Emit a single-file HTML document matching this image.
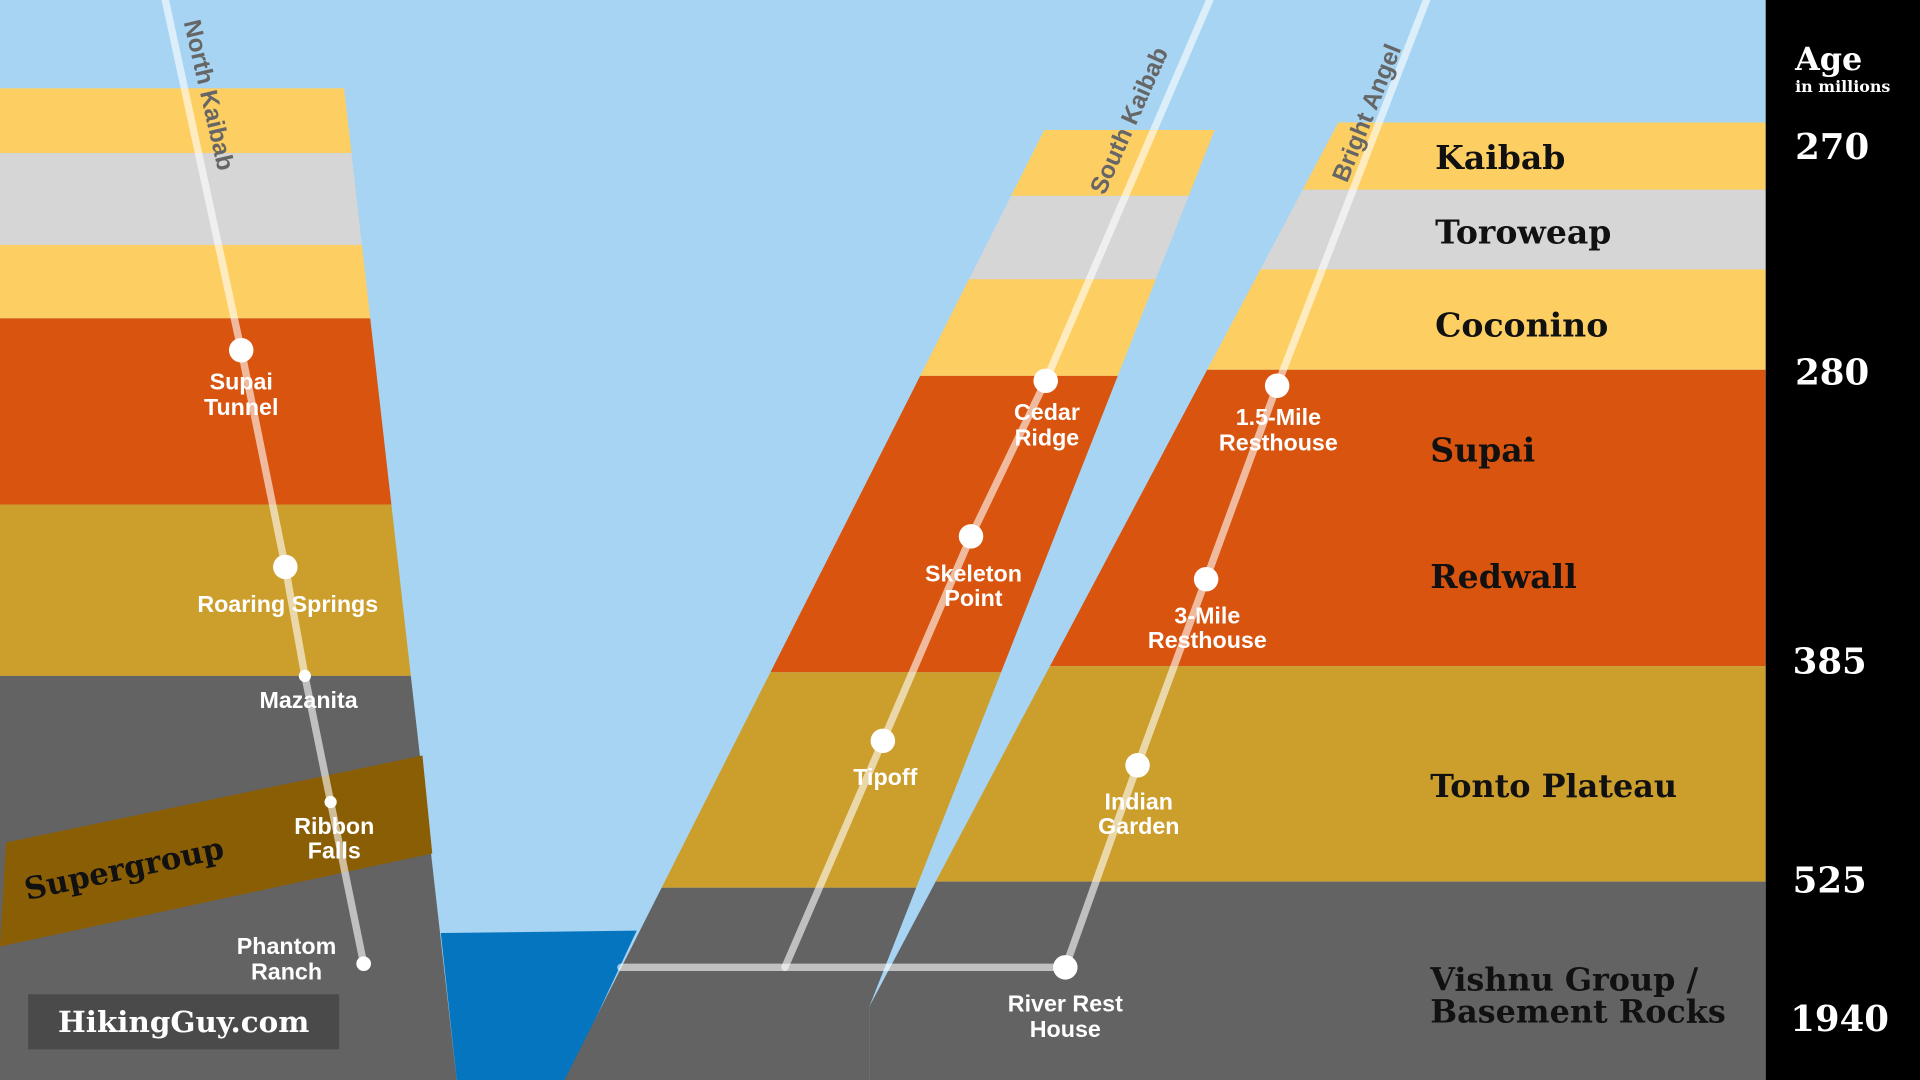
<!DOCTYPE html>
<html><head><meta charset="utf-8"><style>
html,body{margin:0;padding:0;width:1920px;height:1080px;overflow:hidden;background:#a6d4f2}
svg{display:block}
.lab{font-family:"Liberation Sans",sans-serif;font-weight:bold;font-size:19px;fill:#fff;text-anchor:middle}
.lay{font-family:"DejaVu Serif","Liberation Serif",serif;font-weight:900;font-size:27px;fill:#111}
.age{font-family:"DejaVu Serif","Liberation Serif",serif;font-weight:bold;font-size:29px;fill:#fff}
.trail{font-family:"Liberation Sans",sans-serif;font-weight:bold;font-size:19px;fill:#666}
</style></head><body>
<svg width="1920" height="1080" viewBox="0 0 1568 882" xmlns="http://www.w3.org/2000/svg">
<defs>
<clipPath id="left"><polygon points="0,72 281,72 373,882 0,882"/></clipPath>
<clipPath id="mid"><polygon points="853,106 992,106 710,822 710,882 461,882"/></clipPath>
<clipPath id="right"><polygon points="1093,100 1442,100 1442,882 710,882 710,822"/></clipPath>
</defs>
<rect width="1568" height="882" fill="#a6d4f2"/>
<polygon points="360,762 520,760 463,882 373,882" fill="#0575bf"/>
<g clip-path="url(#left)">
<rect x="0" y="72" width="400" height="53" fill="#fdcf62"/>
<rect x="0" y="125" width="400" height="75" fill="#d6d6d6"/>
<rect x="0" y="200" width="400" height="60" fill="#fdcf62"/>
<rect x="0" y="260" width="400" height="152" fill="#d9540f"/>
<rect x="0" y="412" width="400" height="140" fill="#cc9e2c"/>
<rect x="0" y="552" width="400" height="330" fill="#636363"/>
</g>
<polygon points="5,688 345,617 353,697 0,773" fill="#8a5e05"/>
<g clip-path="url(#mid)">
<rect x="400" y="106" width="700" height="54" fill="#fdcf62"/>
<rect x="400" y="160" width="700" height="68" fill="#d6d6d6"/>
<rect x="400" y="228" width="700" height="79" fill="#fdcf62"/>
<rect x="400" y="307" width="700" height="242" fill="#d9540f"/>
<rect x="400" y="549" width="700" height="176" fill="#cc9e2c"/>
<rect x="400" y="725" width="700" height="157" fill="#636363"/>
</g>
<g clip-path="url(#right)">
<rect x="700" y="100" width="760" height="55" fill="#fdcf62"/>
<rect x="700" y="155" width="760" height="65" fill="#d6d6d6"/>
<rect x="700" y="220" width="760" height="82" fill="#fdcf62"/>
<rect x="700" y="302" width="760" height="242" fill="#d9540f"/>
<rect x="700" y="544" width="760" height="176" fill="#cc9e2c"/>
<rect x="700" y="720" width="760" height="162" fill="#636363"/>
</g>
<rect x="1442" y="0" width="126" height="882" fill="#000"/>
<g stroke="#fff" stroke-opacity="0.6" stroke-width="6" fill="none" stroke-linecap="round">
<polyline points="135,0 197,286 233,463 249,552 270,655 297,787"/>
<polyline points="988,0 854,311 793,438 721,605 641,790"/>
<line x1="507" y1="790" x2="870" y2="790"/>
<polyline points="1165,0 1043,315 985,473 929,625 870,790"/>
</g>
<g fill="#fff">
<circle cx="197" cy="286" r="10"/><circle cx="233" cy="463" r="10"/>
<circle cx="249" cy="552" r="5"/><circle cx="270" cy="655" r="5"/><circle cx="297" cy="787" r="6"/>
<circle cx="854" cy="311" r="10"/><circle cx="793" cy="438" r="10"/><circle cx="721" cy="605" r="10"/>
<circle cx="1043" cy="315" r="10"/><circle cx="985" cy="473" r="10"/><circle cx="929" cy="625" r="10"/><circle cx="870" cy="790" r="10"/>
</g>
<text class="trail" style="font-size:20px" transform="translate(150,18) rotate(77)">North Kaibab</text>
<text class="trail" style="font-size:20px" transform="translate(902,160) rotate(-66)">South Kaibab</text>
<text class="trail" style="font-size:20px" transform="translate(1100,150) rotate(-68)">Bright Angel</text>
<text class="lab" x="197" y="318">Supai</text><text class="lab" x="197" y="339">Tunnel</text>
<text class="lab" x="235" y="500">Roaring Springs</text>
<text class="lab" x="252" y="578">Mazanita</text>
<text class="lab" x="273" y="681">Ribbon</text><text class="lab" x="273" y="701">Falls</text>
<text class="lab" x="234" y="779">Phantom</text><text class="lab" x="234" y="800">Ranch</text>
<text class="lab" x="855" y="343">Cedar</text><text class="lab" x="855" y="364">Ridge</text>
<text class="lab" x="795" y="475">Skeleton</text><text class="lab" x="795" y="495">Point</text>
<text class="lab" x="723" y="641">Tipoff</text>
<text class="lab" x="1044" y="347">1.5-Mile</text><text class="lab" x="1044" y="368">Resthouse</text>
<text class="lab" x="986" y="509">3-Mile</text><text class="lab" x="986" y="529">Resthouse</text>
<text class="lab" x="930" y="661">Indian</text><text class="lab" x="930" y="681">Garden</text>
<text class="lab" x="870" y="826">River Rest</text><text class="lab" x="870" y="847">House</text>
<text class="lay" style="font-size:25px" transform="translate(22,735) rotate(-12)">Supergroup</text>
<rect x="23" y="812" width="254" height="45" fill="#4a4a4a"/>
<text class="age" style="font-size:24px" x="150" y="843" text-anchor="middle">HikingGuy.com</text>
<text class="lay" x="1172" y="138">Kaibab</text>
<text class="lay" x="1172" y="199">Toroweap</text>
<text class="lay" x="1172" y="275">Coconino</text>
<text class="lay" x="1168" y="377">Supai</text>
<text class="lay" x="1168" y="480">Redwall</text>
<text class="lay" style="font-size:26px" x="1168" y="651">Tonto Plateau</text>
<text class="lay" style="font-size:26px" x="1168" y="809">Vishnu Group /</text>
<text class="lay" style="font-size:26px" x="1168" y="835">Basement Rocks</text>
<text class="age" style="font-size:26px" x="1466" y="57">Age</text>
<text class="age" style="font-size:13px" x="1466" y="75">in millions</text>
<text class="age" x="1466" y="130">270</text>
<text class="age" x="1466" y="314">280</text>
<text class="age" x="1464" y="550">385</text>
<text class="age" x="1464" y="729">525</text>
<text class="age" x="1462" y="842">1940</text>
</svg>
</body></html>
